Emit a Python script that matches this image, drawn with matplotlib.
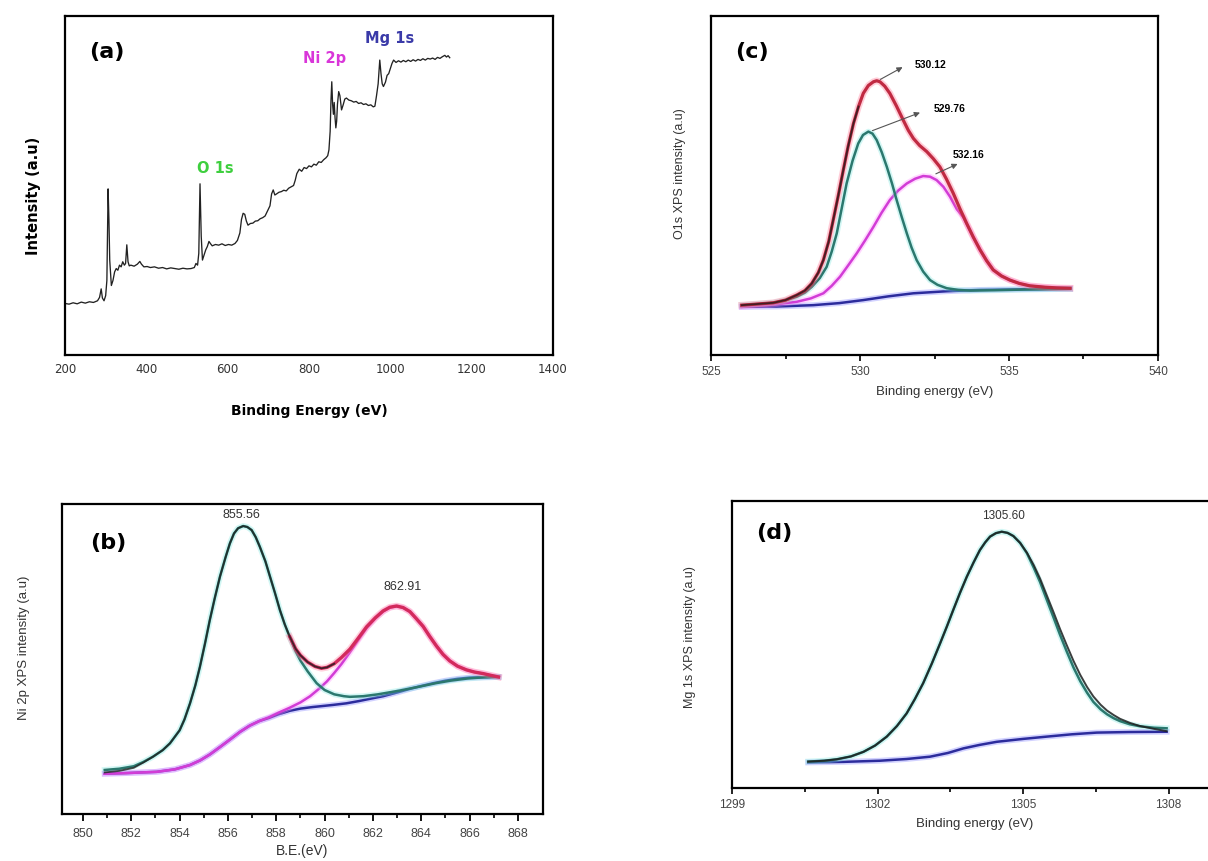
import numpy as np
import matplotlib
matplotlib.use("Agg")
import matplotlib.pyplot as plt
import matplotlib.patheffects as pe

# ---------------- (a) survey spectrum ----------------
survey_ev = [200, 210, 220, 230, 240, 250, 260, 270, 280, 285, 289, 292, 296, 300, 303, 306, 308, 310,
             314, 318, 322, 326, 330, 334, 338, 342, 346, 349, 352, 355, 358, 362, 370, 378, 384, 388,
             394, 402, 410, 420, 430, 440, 450, 460, 470, 480, 490, 500, 510, 518, 522, 526, 529, 532,
             535, 538, 542, 546, 550, 554, 558, 562, 570, 578, 586, 594, 602, 610, 618, 624, 630, 634,
             638, 642, 646, 650, 656, 662, 668, 674, 680, 686, 692, 698, 704, 708, 712, 716, 720, 726,
             732, 738, 744, 750, 756, 762, 766, 770, 776, 782, 788, 794, 800, 806, 812, 818, 824, 830,
             836, 842, 846, 849, 852, 854, 856, 858, 860, 862, 864, 866, 868, 870, 873, 876, 880, 884,
             888, 892, 898, 904, 910, 916, 922, 928, 934, 940, 946, 952, 958, 962, 966, 970, 974, 977,
             980, 983, 988, 992, 996, 1000, 1004, 1008, 1014, 1020, 1026, 1032, 1038, 1044, 1050, 1056,
             1062, 1068, 1074, 1080, 1086, 1092, 1098, 1104, 1110, 1116, 1122, 1128, 1134, 1138, 1142,
             1146]
survey_int = [15.2, 15.0, 15.4, 15.1, 15.6, 15.3, 15.7, 15.5, 16.0, 17.0, 19.5, 16.8, 16.0, 17.5, 22.0,
              49.0, 40.0, 28.0, 20.5, 22.0, 24.5, 25.5, 25.0, 26.5, 26.0, 27.5, 26.5, 27.0, 32.5, 27.5,
              26.3, 26.5, 26.2, 26.8, 27.6, 26.8, 26.0, 26.1, 25.8, 26.0, 25.6, 25.8, 25.4, 25.7, 25.5,
              25.3, 25.6, 25.4, 25.5, 25.8, 27.0, 26.5, 30.0, 50.5, 35.0, 28.0, 29.5, 31.0, 32.0, 33.5,
              32.8, 32.2, 32.6, 32.4, 32.8, 32.3, 32.6, 32.4, 32.9, 33.8, 36.0, 40.0, 41.8, 41.5, 39.5,
              38.3, 38.8, 38.9, 39.5, 39.6, 40.2, 40.5, 41.0, 42.5, 44.0, 47.5, 48.7, 47.2, 47.5, 48.0,
              48.2, 48.6, 48.4, 49.2, 49.6, 50.0, 51.5, 53.5, 54.8, 54.2, 55.3, 55.0, 55.8, 55.5, 56.3,
              56.0, 57.0, 56.8, 57.6, 58.2, 58.8, 60.5, 66.0, 75.0, 80.6, 74.0, 71.0, 74.5, 70.0, 67.0,
              69.0, 74.0, 77.7, 76.5, 72.3, 73.8, 75.5, 75.8, 75.2, 75.0, 74.6, 74.8, 74.2, 74.4, 73.9,
              74.1, 73.6, 73.8, 73.2, 73.4, 76.5, 80.0, 87.0, 83.0, 80.0, 79.2, 80.5, 82.5, 83.0, 84.5,
              86.0, 87.0, 86.3, 86.8, 86.4, 86.9, 86.5, 87.0, 86.6, 87.1, 86.7, 87.2, 86.9, 87.4, 87.0,
              87.5, 87.3, 87.6, 87.2, 87.8, 87.5, 88.0, 88.4, 87.9, 88.3, 87.7]

# ---------------- (b) Ni 2p ----------------
ni_fit1_x = [850.9, 851.5, 852.1, 852.5, 852.9, 853.3, 853.6, 854.0, 854.2, 854.43, 854.65, 854.84,
             855.05, 855.25, 855.45, 855.67, 855.9, 856.08, 856.25, 856.42, 856.63, 856.8, 856.98,
             857.15, 857.32, 857.55, 857.74, 857.95, 858.15, 858.35, 858.56, 858.8, 859.0, 859.3,
             859.67, 860.0, 860.4, 860.8, 861.05, 861.6, 862.2, 863.1, 864.0, 864.6, 865.2, 865.9,
             866.6, 867.2]
ni_fit1_y = [14.2, 14.6, 15.4, 16.8, 18.5, 20.6, 22.8, 27.0, 30.5, 35.7, 41.5, 47.5, 55.0, 62.6, 69.5,
             76.6, 82.8, 87.3, 90.5, 92.2, 92.9, 92.6, 91.6, 89.3, 86.2, 81.5, 76.6, 71.2, 65.8, 61.2,
             57.0, 52.5, 49.5, 46.0, 42.2, 40.0, 38.6, 38.0, 37.8, 38.0, 38.6, 39.8, 41.2, 42.2, 43.0,
             43.7, 44.1, 44.2]
ni_env_x = [850.9, 851.5, 852.1, 852.5, 852.9, 853.3, 853.6, 854.0, 854.2, 854.43, 854.65, 854.84,
            855.05, 855.25, 855.45, 855.67, 855.9, 856.08, 856.25, 856.42, 856.63, 856.8, 856.98,
            857.15, 857.32, 857.55, 857.74, 857.95, 858.15, 858.35, 858.56, 858.8, 859.0, 859.3,
            859.6, 859.87, 860.1, 860.4, 860.7, 861.05, 861.4, 861.74, 862.1, 862.42, 862.7, 862.98,
            863.25, 863.53, 863.8, 864.08, 864.35, 864.63, 864.9, 865.18, 865.5, 865.87, 866.2,
            866.56, 866.9, 867.2]
ni_env_y = [13.4, 13.9, 14.9, 16.6, 18.5, 20.6, 22.8, 27.0, 30.5, 35.7, 41.5, 47.5, 55.0, 62.6, 69.5,
            76.6, 82.8, 87.3, 90.5, 92.2, 92.9, 92.6, 91.6, 89.3, 86.2, 81.5, 76.6, 71.2, 65.8, 61.2,
            57.2, 53.3, 51.2, 49.0, 47.6, 47.0, 47.3, 48.5, 50.5, 53.2, 56.8, 60.4, 63.3, 65.5, 66.7,
            67.1, 66.6, 65.3, 63.0, 60.5, 57.3, 54.2, 51.5, 49.4, 47.7, 46.5, 45.8, 45.3, 44.7, 44.2]
ni_fit2_x = [850.9, 851.8, 853.05, 853.8, 854.43, 854.85, 855.25, 855.67, 856.08, 856.5, 856.9, 857.3,
             857.7, 858.1, 858.56, 859.0, 859.4, 859.8, 860.1, 860.4, 860.7, 861.05, 861.4, 861.74,
             862.1, 862.42, 862.7, 862.98, 863.25, 863.53, 863.8, 864.08, 864.35, 864.63, 864.9,
             865.18, 865.5, 865.87, 866.2, 866.56, 866.9, 867.2]
ni_fit2_y = [13.0, 13.2, 13.6, 14.4, 15.8, 17.3, 19.2, 21.6, 24.0, 26.5, 28.5, 30.0, 31.2, 32.7, 34.3,
             36.0, 38.0, 40.6, 42.8, 45.5, 48.4, 52.2, 56.2, 60.0, 63.1, 65.3, 66.6, 67.0, 66.6, 65.3,
             63.0, 60.5, 57.3, 54.2, 51.5, 49.4, 47.7, 46.5, 45.8, 45.3, 44.7, 44.2]
ni_bg_x = [850.9, 851.8, 853.05, 853.8, 854.43, 854.85, 855.25, 855.67, 856.08, 856.5, 856.9, 857.3,
           857.7, 858.1, 858.56, 859.0, 859.5, 860.0, 860.36, 860.9, 861.4, 861.9, 862.42, 863.0,
           863.5, 864.0, 864.5, 865.0, 865.5, 866.0, 867.2]
ni_bg_y = [13.0, 13.2, 13.6, 14.4, 15.8, 17.3, 19.2, 21.6, 24.0, 26.5, 28.5, 30.0, 31.0, 32.2, 33.3,
           34.0, 34.5, 34.9, 35.2, 35.7, 36.4, 37.2, 38.0, 39.2, 40.3, 41.3, 42.2, 43.0, 43.6, 44.0,
           44.2]
ni_ticks = [850, 852, 854, 856, 858, 860, 862, 864, 866, 868]

# ---------------- (c) O 1s ----------------
o_env_x = [526.03, 526.5, 527.09, 527.5, 527.88, 528.15, 528.38, 528.6, 528.77, 528.95, 529.1, 529.27,
           529.44, 529.6, 529.78, 529.95, 530.11, 530.28, 530.45, 530.56, 530.67, 530.83, 531.0,
           531.22, 531.45, 531.62, 531.79, 532.0, 532.24, 532.46, 532.68, 532.9, 533.13, 533.35,
           533.58, 533.8, 534.03, 534.25, 534.47, 534.75, 535.03, 535.35, 535.7, 536.2, 536.6, 537.05]
o_env_y = [14.7, 15.0, 15.4, 16.2, 17.7, 19.0, 21.1, 24.3, 28.0, 33.5, 39.8, 47.0, 54.6, 61.5, 68.3,
           73.3, 77.2, 79.5, 80.6, 80.9, 80.6, 79.3, 77.2, 73.5, 69.3, 66.3, 63.9, 61.8, 60.0, 57.9,
           55.5, 51.9, 47.7, 43.2, 38.8, 34.8, 31.0, 27.8, 25.1, 23.3, 22.1, 21.1, 20.4, 20.0, 19.8, 19.7]
o_fit1_x = [526.03, 526.5, 527.09, 527.5, 527.88, 528.15, 528.38, 528.65, 528.88, 529.05, 529.22,
            529.38, 529.55, 529.75, 529.94, 530.1, 530.28, 530.42, 530.56, 530.73, 530.9, 531.07,
            531.23, 531.4, 531.57, 531.73, 531.9, 532.12, 532.35, 532.6, 532.91, 533.3, 533.69, 534.5,
            535.5, 537.05]
o_fit1_y = [14.7, 15.0, 15.4, 16.1, 17.2, 18.4, 20.1, 22.7, 26.0, 30.5, 35.9, 43.0, 50.6, 57.3, 62.4,
            64.9, 65.9, 65.3, 63.4, 59.8, 55.5, 50.7, 45.7, 40.7, 35.9, 31.7, 28.0, 24.6, 22.1, 20.7,
            19.7, 19.2, 19.0, 19.1, 19.3, 19.5]
o_fit2_x = [526.03, 527.0, 527.88, 528.35, 528.77, 529.05, 529.33, 529.6, 529.89, 530.17, 530.45,
            530.72, 531.0, 531.28, 531.57, 531.85, 532.12, 532.35, 532.57, 532.8, 533.02, 533.25,
            533.47, 533.8, 534.03, 534.25, 534.47, 534.75, 535.03, 535.35, 535.7, 536.2, 536.6, 537.05]
o_fit2_y = [14.2, 14.8, 15.7, 16.7, 18.2, 20.4, 23.1, 26.4, 30.0, 33.8, 37.8, 41.9, 45.7, 48.5, 50.6,
            52.0, 52.8, 52.6, 51.6, 49.6, 46.7, 43.0, 40.6, 34.8, 31.0, 27.8, 25.1, 23.3, 22.1, 21.1,
            20.4, 20.0, 19.8, 19.7]
o_bg_x = [526.03, 527.2, 528.43, 529.3, 530.11, 530.95, 531.79, 532.9, 534.03, 535.5, 537.05]
o_bg_y = [14.2, 14.3, 14.7, 15.3, 16.2, 17.3, 18.2, 18.8, 19.2, 19.4, 19.5]

# ---------------- (d) Mg 1s ----------------
mg_x = [1300.57, 1300.9, 1301.16, 1301.45, 1301.71, 1301.95, 1302.19, 1302.4, 1302.6, 1302.77, 1302.94,
        1303.12, 1303.29, 1303.43, 1303.56, 1303.7, 1303.84, 1303.98, 1304.11, 1304.22, 1304.32,
        1304.44, 1304.56, 1304.68, 1304.8, 1304.94, 1305.08, 1305.22, 1305.35, 1305.48, 1305.62,
        1305.76, 1305.9, 1306.04, 1306.18, 1306.32, 1306.45, 1306.6, 1306.73, 1306.87, 1307.0,
        1307.2, 1307.41, 1307.7, 1307.96]
mg_env_y = [9.2, 9.5, 10.0, 11.0, 12.6, 14.8, 17.9, 21.6, 26.0, 31.0, 36.5, 43.4, 50.4, 56.3, 62.0,
            68.0, 73.6, 78.6, 82.9, 85.6, 87.6, 88.8, 89.3, 88.9, 87.8, 85.4, 82.0, 77.7, 73.0, 67.5,
            61.6, 55.5, 49.8, 44.3, 39.4, 35.2, 31.9, 29.0, 27.0, 25.4, 24.1, 22.7, 21.6, 20.6, 19.8]
mg_fit_y = [9.2, 9.5, 10.0, 11.0, 12.6, 14.8, 17.9, 21.6, 26.0, 31.0, 36.5, 43.4, 50.4, 56.3, 62.0,
            68.0, 73.6, 78.6, 82.9, 85.6, 87.6, 88.8, 89.3, 88.9, 87.8, 85.4, 81.8, 76.8, 71.8, 66.0,
            59.8, 53.5, 47.6, 42.0, 37.2, 33.2, 30.0, 27.4, 25.7, 24.3, 23.3, 22.2, 21.5, 21.0, 20.8]
mg_bg_x = [1300.57, 1301.3, 1302.05, 1302.6, 1303.08, 1303.45, 1303.77, 1304.1, 1304.46, 1305.0,
           1305.49, 1306.0, 1306.52, 1307.2, 1307.96]
mg_bg_y = [8.9, 9.1, 9.5, 10.1, 10.9, 12.2, 13.8, 15.0, 16.1, 17.1, 17.9, 18.7, 19.3, 19.5, 19.6]

TEAL = '#2b786e'
MAGENTA = '#d23cd6'
BLUE = '#2c2c9c'
CRIMSON = '#d32a5c'
DARKRED = '#c02a42'


def glow(color, w=4.2):
    return [pe.Stroke(linewidth=w, foreground=color, alpha=0.35), pe.Normal()]


def frame(ax):
    for s in ax.spines.values():
        s.set_linewidth(1.6)
        s.set_color('black')
    ax.set_yticks([])
    ax.set_ylim(0, 100)


fig = plt.figure(figsize=(12.08, 8.61), dpi=100)

# ---- (a)
ax = fig.add_axes([0.0538, 0.5877, 0.404, 0.3937])
ax.plot(survey_ev, survey_int, color='#222222', lw=0.95)
ax.set_xlim(200, 1400)
frame(ax)
ax.set_xticks([200, 400, 600, 800, 1000, 1200, 1400])
ax.tick_params(axis='x', length=0, pad=6, labelsize=8.5, labelcolor='#333333')
ax.set_xlabel('Binding Energy (eV)', fontsize=10, fontweight='bold', labelpad=20)
ax.set_ylabel('Intensity (a.u)', fontsize=10.5, fontweight='bold')
ax.yaxis.set_label_coords(-0.05, 0.47)
ax.text(0.05, 0.895, '(a)', transform=ax.transAxes, fontsize=16, fontweight='bold', va='center')
ax.text(570, 55, 'O 1s', color='#3ecf3e', fontsize=10.5, fontweight='bold', ha='center', va='center')
ax.text(839, 87.5, 'Ni 2p', color='#d936d9', fontsize=10.5, fontweight='bold', ha='center', va='center')
ax.text(999, 93.4, 'Mg 1s', color='#3a3aa8', fontsize=10.5, fontweight='bold', ha='center', va='center')

# ---- (c)
ax = fig.add_axes([0.5886, 0.5877, 0.370, 0.3937])
ax.plot(o_bg_x, o_bg_y, color=BLUE, lw=1.8, path_effects=glow('#8080ff'))
ax.plot(o_fit2_x, o_fit2_y, color=MAGENTA, lw=1.8, path_effects=glow('#ff90ff'))
ax.plot(o_fit1_x, o_fit1_y, color=TEAL, lw=1.8, path_effects=glow('#7fe8e0'))
ax.plot(o_env_x, o_env_y, color=DARKRED, lw=2.3, path_effects=glow('#ff7090', 4.8))
ox = np.array(o_env_x)
oy = np.array(o_env_y)
m = ox <= 530.1
ax.plot(ox[m], oy[m], color='#1a1a1a', lw=1.3, alpha=0.75)
ax.set_xlim(525, 540)
frame(ax)
ax.set_xticks([525, 530, 535, 540])
ax.set_xticks([527.5, 532.5, 537.5], minor=True)
ax.tick_params(axis='x', which='major', direction='out', length=4, width=1.2, pad=4,
               labelsize=8.5, labelcolor='#444444')
ax.tick_params(axis='x', which='minor', direction='out', length=3, width=1.2)
for t in ax.get_xticklabels():
    t.set_family('Liberation Sans')
ax.set_xlabel('Binding energy (eV)', fontsize=9.5, family='Liberation Sans', color='#333333', labelpad=6)
ax.set_ylabel('O1s XPS intensity (a.u)', fontsize=9, family='Liberation Sans', color='#333333')
ax.yaxis.set_label_coords(-0.057, 0.535)
ax.text(0.053, 0.895, '(c)', transform=ax.transAxes, fontsize=16, fontweight='bold', va='center')
arrow = dict(arrowstyle='-|>', color='#555555', lw=0.8, mutation_scale=8)
ax.annotate('', xy=(531.51, 85.3), xytext=(530.6, 80.9), arrowprops=arrow)
ax.annotate('', xy=(532.1, 71.8), xytext=(530.33, 65.9), arrowprops=arrow)
ax.annotate('', xy=(533.36, 56.7), xytext=(532.46, 53.1), arrowprops=arrow)
ax.text(531.85, 85.5, '530.12', fontsize=7.5, fontweight='bold', family='Liberation Sans', va='center')
ax.text(532.48, 72.5, '529.76', fontsize=7.5, fontweight='bold', family='Liberation Sans', va='center')
ax.text(533.11, 59.0, '532.16', fontsize=7.5, fontweight='bold', family='Liberation Sans', va='center')

# ---- (b)
ax = fig.add_axes([0.0513, 0.0546, 0.398, 0.360])
ax.plot(ni_bg_x, ni_bg_y, color=BLUE, lw=1.8, path_effects=glow('#8080ff'))
ax.plot(ni_fit2_x, ni_fit2_y, color=MAGENTA, lw=1.8, path_effects=glow('#ff90ff'))
ax.plot(ni_fit1_x, ni_fit1_y, color=TEAL, lw=1.8, path_effects=glow('#7fe8e0'))
nx = np.array(ni_env_x)
ny = np.array(ni_env_y)
m = nx >= 858.5
ax.plot(nx[m], ny[m], color=CRIMSON, lw=2.4, path_effects=glow('#ff80a0', 4.8))
m = nx <= 860.4
ax.plot(nx[m], ny[m], color='#1e1e1e', lw=1.3, alpha=0.8)
ax.set_xlim(849.13, 869.03)
frame(ax)
ax.set_xticks(ni_ticks)
ax.set_xticks([t + 1 for t in ni_ticks[:-1]], minor=True)
ax.tick_params(axis='x', which='major', direction='out', length=5, width=1.3, pad=5,
               labelsize=9, labelcolor='#444444')
ax.tick_params(axis='x', which='minor', direction='out', length=3, width=1.2)
for t in ax.get_xticklabels():
    t.set_family('Liberation Sans')
ax.set_xlabel('B.E.(eV)', fontsize=10, family='Liberation Sans', color='#333333', labelpad=3)
ax.set_ylabel('Ni 2p XPS intensity (a.u)', fontsize=9.5, family='Liberation Sans', color='#333333')
ax.yaxis.set_label_coords(-0.066, 0.535)
ax.text(0.058, 0.874, '(b)', transform=ax.transAxes, fontsize=16, fontweight='bold', va='center')
ax.text(856.57, 96.6, '855.56', fontsize=9, family='Liberation Sans', color='#333333', ha='center', va='center')
ax.text(863.24, 73.1, '862.91', fontsize=9, family='Liberation Sans', color='#333333', ha='center', va='center')

# ---- (d)
ax = fig.add_axes([0.606, 0.0848, 0.4015, 0.3333])
ax.plot(mg_bg_x, mg_bg_y, color=BLUE, lw=1.8, path_effects=glow('#8080ff'))
ax.plot(mg_x, mg_fit_y, color=TEAL, lw=1.8, path_effects=glow('#7fe8e0'))
ax.plot(mg_x, mg_env_y, color='#1e1e1e', lw=1.4, alpha=0.85)
ax.set_xlim(1299, 1309)
frame(ax)
ax.set_xticks([1299, 1302, 1305, 1308])
ax.set_xticks([1300.5, 1303.5, 1306.5], minor=True)
ax.tick_params(axis='x', which='major', direction='out', length=4, width=1.2, pad=4,
               labelsize=8.5, labelcolor='#444444')
ax.tick_params(axis='x', which='minor', direction='out', length=3, width=1.2)
for t in ax.get_xticklabels():
    t.set_family('Liberation Sans')
ax.set_xlabel('Binding energy (eV)', fontsize=9.5, family='Liberation Sans', color='#333333', labelpad=5)
ax.set_ylabel('Mg 1s XPS intensity (a.u)', fontsize=9, family='Liberation Sans', color='#333333')
ax.yaxis.set_label_coords(-0.074, 0.526)
ax.text(0.05, 0.89, '(d)', transform=ax.transAxes, fontsize=16, fontweight='bold', va='center')
ax.text(1304.6, 94.8, '1305.60', fontsize=8.5, family='Liberation Sans', color='#333333', ha='center', va='center')

fig.savefig('out.png', dpi=100)
